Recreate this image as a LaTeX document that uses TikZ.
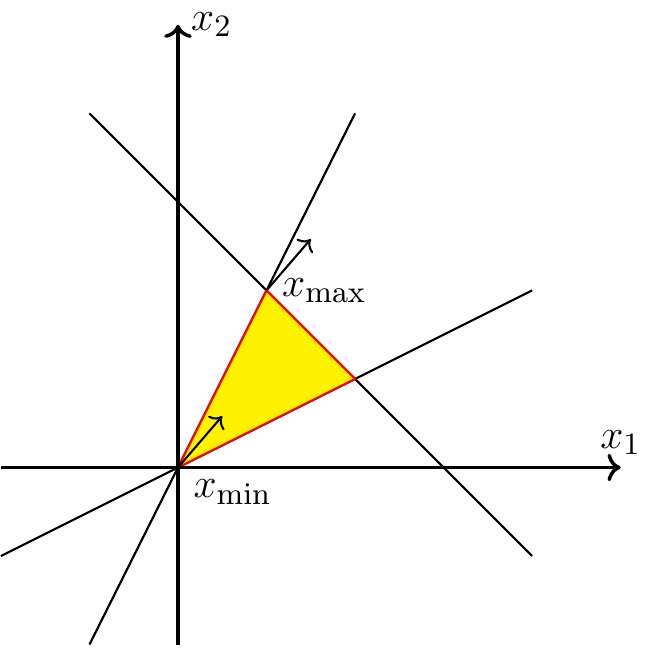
\documentclass[tikz,border=0pt]{standalone}
\usepackage{amsmath,amssymb}
\usetikzlibrary{arrows.meta,positioning}

\begin{document}
\begin{tikzpicture}[x=0.9cm,y=0.9cm,
  every node/.style={font=\fontsize{12.9}{15}\selectfont},
  axis/.style={->,line width=1pt},
  bound/.style={semithick},
  grad/.style={->,semithick},
  feas/.style={fill=yellow,draw=red,semithick}]
  \useasboundingbox (-2.01,-2.045) rectangle (5.41,5.28);
  \coordinate (o) at (0,0); \coordinate (xmax) at (1,2);
  \coordinate (xb) at (2,1);
  \draw[bound] (-1,-2) -- (2,4); \draw[bound] (-2,-1) -- (4,2);
  \draw[bound] (-1,4) -- (4,-1);
  \filldraw[feas] (o) -- (xmax) -- (xb) -- cycle;
  \draw[axis] (-2,0) -- (5,0) node[above] (lx1) {$x_1$};
  \draw[axis] (0,-2) -- (0,5) node[right] (lx2) {$x_2$};
  \draw[grad] (o) -- ++(0.5,0.58); \draw[grad] (xmax) -- ++(0.5,0.58);
  \node[right,xshift=1pt] (lmax) at (xmax) {$x_{\max}$};
  \node[below right,xshift=1pt] (lmin) at (o) {$x_{\min}$};
\end{tikzpicture}
\end{document}
